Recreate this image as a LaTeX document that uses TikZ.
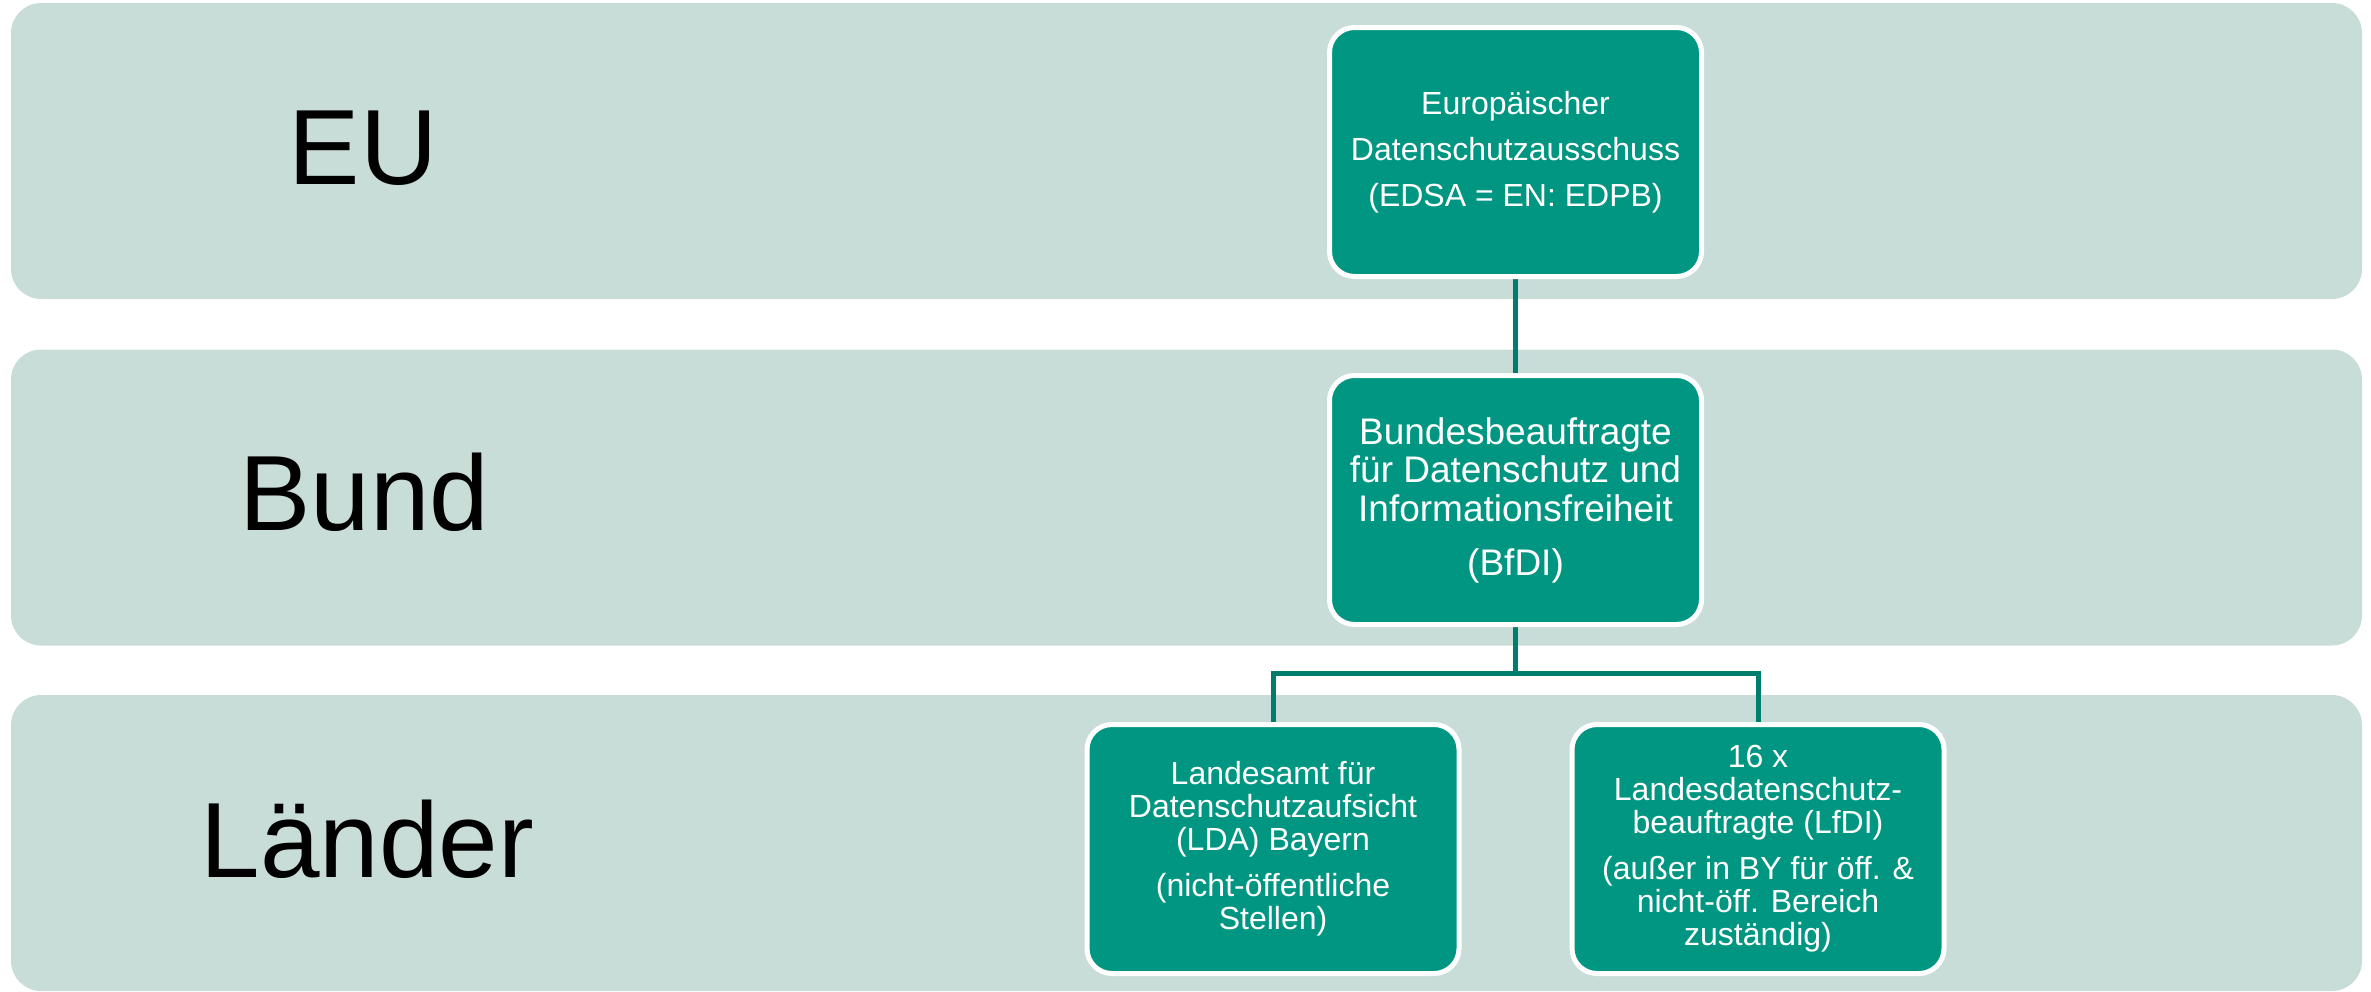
\documentclass[tikz,border=0pt]{standalone}
\usepackage{fontspec}
\setmainfont{Liberation Sans}
\definecolor{bandc}{RGB}{201,221,216}
\definecolor{boxc}{RGB}{0,150,130}
\definecolor{linec}{RGB}{0,125,108}
\pgfdeclarelayer{bandlayer}
\pgfdeclarelayer{linelayer}
\pgfsetlayers{bandlayer,linelayer,main}
\begin{document}
\begin{tikzpicture}[x=0.5pt,y=-0.5pt,
 band/.style={rectangle, rounded corners=15pt, fill=bandc, minimum width=1175.5pt, minimum height=148pt, inner sep=0pt},
 lvl/.style={font=\fontsize{53.5pt}{60pt}\selectfont, text=black, anchor=base, inner sep=0pt},
 orgbox/.style={rectangle, rounded corners=12.5pt, fill=boxc, draw=white, line width=2.5pt, text=white, align=center, inner sep=0pt, minimum width=186pt, minimum height=124.5pt},
 conn/.style={draw=linec, line width=2.5pt}]
\useasboundingbox (0,0) rectangle (2371,991);
\begin{pgfonlayer}{bandlayer}
\node[band] (bandEU) at (1186.5,151) {};
\node[band] (bandBund) at (1186.5,497.5) {};
\node[band] (bandLaender) at (1186.5,843) {};
\end{pgfonlayer}
\node[lvl] (lEU) at (363,184) {EU};
\node[lvl] (lBund) at (364.5,530) {Bund};
\node[lvl] (lLaender) at (367.5,877) {Länder};

\node[orgbox, font=\fontsize{16pt}{23pt}\selectfont] (eu) at (1515.5,152)
 {Europäischer\\Datenschutzausschuss\\(EDSA = EN: EDPB)};
\node[orgbox, font=\fontsize{18.5pt}{19.25pt}\selectfont] (bund) at (1515.5,500)
 {Bundesbeauftragte\\für Datenschutz und\\Informationsfreiheit\\[7.75pt](BfDI)};
\node[orgbox, font=\fontsize{16pt}{16.5pt}\selectfont] (lda) at (1273,849)
 {Landesamt für\\Datenschutzaufsicht\\(LDA) Bayern\\[6.5pt](nicht-öffentliche\\Stellen)};
\node[orgbox, font=\fontsize{16pt}{16.5pt}\selectfont] (lfdi) at (1758,849)
 {16 x\\Landesdatenschutz-\\beauftragte (LfDI)\\[6.5pt](außer in BY für öff. \&\\nicht-öff. Bereich\\zuständig)};
\coordinate (split) at (1515.5,673);
\begin{pgfonlayer}{linelayer}
\draw[conn] (eu.south) -- (bund.north);
\draw[conn] (bund.south) -- (split);
\draw[conn] (lda.north) |- (split) -| (lfdi.north);
\end{pgfonlayer}
\end{tikzpicture}
\end{document}
